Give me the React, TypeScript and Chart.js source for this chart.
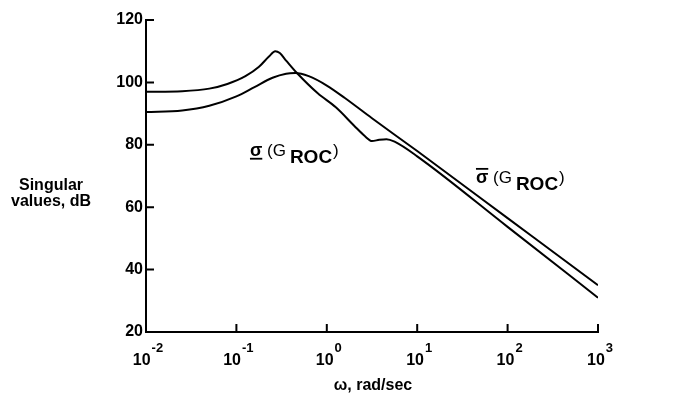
import { useEffect, useRef } from "react";
import { Chart, registerables } from "chart.js";

Chart.register(...registerables);

// log10(omega) sample positions and singular values (dB)
const logOmegaMin = [-2, -1.6, -1.3, -1.1, -0.9, -0.75, -0.64, -0.57, -0.52, -0.45, -0.33, -0.1, 0.1, 0.3, 0.42, 0.5, 0.58, 0.66, 0.75, 1, 2, 3];
const sigmaMinDb = [97, 97.2, 98, 99.5, 102, 105, 108.3, 110, 109.4, 107, 103, 96.5, 92, 86.2, 82.8, 81.2, 81.6, 81.8, 81, 76.3, 53.7, 31];

const logOmegaMax = [-2, -1.6, -1.3, -1.0, -0.8, -0.6, -0.45, -0.35, -0.2, 0, 0.2, 0.5, 1, 2, 3];
const sigmaMaxDb = [90.5, 91, 92.5, 95.5, 98.5, 101.5, 102.8, 103, 102, 99, 95, 88.5, 78, 56.5, 35];

const xTickExponents = [-2, -1, 0, 1, 2, 3];
const yTickValues = [20, 40, 60, 80, 100, 120];
const xAxisTitle = "ω, rad/sec";
const yAxisTitleLines = ["Singular", "values, dB"];
const labelMin = { sigma: "σ", open: " (G", sub: "ROC", close: ")", logOmega: -0.85, db: 76.5, bar: "under" };
const labelMax = { sigma: "σ", open: " (G", sub: "ROC", close: ")", logOmega: 1.65, db: 67.8, bar: "over" };

const FONT = '"Liberation Sans", Arial, sans-serif';

const customAxes = {
  id: "customAxes",
  afterDraw(chart: any) {
    const { ctx, chartArea, scales } = chart;
    const { left, right, top, bottom } = chartArea;
    const x = scales.x;
    const y = scales.y;
    ctx.save();
    ctx.strokeStyle = "#000";
    ctx.fillStyle = "#000";
    ctx.lineWidth = 2;
    ctx.beginPath();
    ctx.moveTo(left, top);
    ctx.lineTo(left, bottom);
    ctx.lineTo(right, bottom);
    ctx.stroke();

    // y ticks (inside) and labels
    ctx.beginPath();
    yTickValues.forEach((v) => {
      const py = y.getPixelForValue(v);
      ctx.moveTo(left - 1, py);
      ctx.lineTo(left + 8, py);
    });
    ctx.stroke();
    ctx.font = `bold 16px ${FONT}`;
    ctx.textAlign = "right";
    ctx.textBaseline = "middle";
    yTickValues.forEach((v) => {
      const py = y.getPixelForValue(v);
      ctx.fillText(String(v), left - 3, py);
    });

    // x ticks (inside) and labels
    ctx.beginPath();
    xTickExponents.forEach((e, i) => {
      if (i === 0) return;
      const px = x.getPixelForValue(Math.pow(10, e));
      ctx.moveTo(px, bottom + 1);
      ctx.lineTo(px, bottom - 8);
    });
    ctx.stroke();
    xTickExponents.forEach((e) => {
      const px = x.getPixelForValue(Math.pow(10, e));
      ctx.font = `bold 16px ${FONT}`;
      const baseW = ctx.measureText("10").width;
      ctx.font = `bold 13px ${FONT}`;
      const expText = String(e);
      const expW = ctx.measureText(expText).width;
      const total = baseW + 1 + expW;
      const startX = px - total / 2 + 2;
      ctx.textAlign = "left";
      ctx.textBaseline = "alphabetic";
      ctx.font = `bold 16px ${FONT}`;
      ctx.fillText("10", startX, bottom + 33);
      ctx.font = `bold 13px ${FONT}`;
      ctx.fillText(expText, startX + baseW + 1, bottom + 20);
    });

    // axis titles
    ctx.font = `bold 16px ${FONT}`;
    ctx.textAlign = "center";
    ctx.textBaseline = "alphabetic";
    ctx.fillText(xAxisTitle, (left + right) / 2 + 1, bottom + 58);
    yAxisTitleLines.forEach((line, i) => {
      ctx.fillText(line, 51, 190 + i * 16);
    });

    // curve labels
    [labelMin, labelMax].forEach((lab) => {
      const px = x.getPixelForValue(Math.pow(10, lab.logOmega));
      const py = y.getPixelForValue(lab.db);
      ctx.textAlign = "left";
      ctx.textBaseline = "alphabetic";
      ctx.font = `bold 18px ${FONT}`;
      const sw = ctx.measureText(lab.sigma).width;
      ctx.fillText(lab.sigma, px, py);
      ctx.lineWidth = 1.8;
      ctx.beginPath();
      if (lab.bar === "under") {
        ctx.moveTo(px, py + 3);
        ctx.lineTo(px + sw, py + 3);
      } else {
        ctx.moveTo(px, py - 14);
        ctx.lineTo(px + sw, py - 14);
      }
      ctx.stroke();
      ctx.font = `17px ${FONT}`;
      let cx = px + sw;
      ctx.fillText(lab.open, cx, py);
      cx += ctx.measureText(lab.open).width + 4;
      ctx.font = `bold 19px ${FONT}`;
      ctx.fillText(lab.sub, cx, py + 7);
      cx += ctx.measureText(lab.sub).width + 1;
      ctx.font = `17px ${FONT}`;
      ctx.fillText(lab.close, cx, py);
    });
    ctx.restore();
  },
};

export default function App() {
  const canvasRef = useRef<HTMLCanvasElement | null>(null);

  useEffect(() => {
    const canvas = canvasRef.current;
    if (!canvas) return;
    const toPoints = (logs: number[], vals: number[]) =>
      logs.map((l, i) => ({ x: Math.pow(10, l), y: vals[i] }));
    const chart = new Chart(canvas, {
      type: "line",
      data: {
        datasets: [
          {
            label: "sigma min",
            data: toPoints(logOmegaMin, sigmaMinDb),
            borderColor: "#000",
            borderWidth: 2,
            pointRadius: 0,
            cubicInterpolationMode: "monotone",
            fill: false,
          },
          {
            label: "sigma max",
            data: toPoints(logOmegaMax, sigmaMaxDb),
            borderColor: "#000",
            borderWidth: 2,
            pointRadius: 0,
            cubicInterpolationMode: "monotone",
            fill: false,
          },
        ],
      },
      options: {
        responsive: false,
        animation: false,
        events: [],
        layout: { padding: { left: 146, right: 76, top: 20, bottom: 66 } },
        plugins: { legend: { display: false }, tooltip: { enabled: false } },
        scales: {
          x: { type: "logarithmic", min: 0.01, max: 1000, display: false },
          y: { type: "linear", min: 20, max: 120, display: false },
        },
      },
      plugins: [customAxes],
    });
    return () => chart.destroy();
  }, []);

  return (
    <div style={{ position: "fixed", left: 0, top: 0, width: 674, height: 398, background: "#fff" }}>
      <canvas ref={canvasRef} width={674} height={398} style={{ display: "block" }} />
    </div>
  );
}
